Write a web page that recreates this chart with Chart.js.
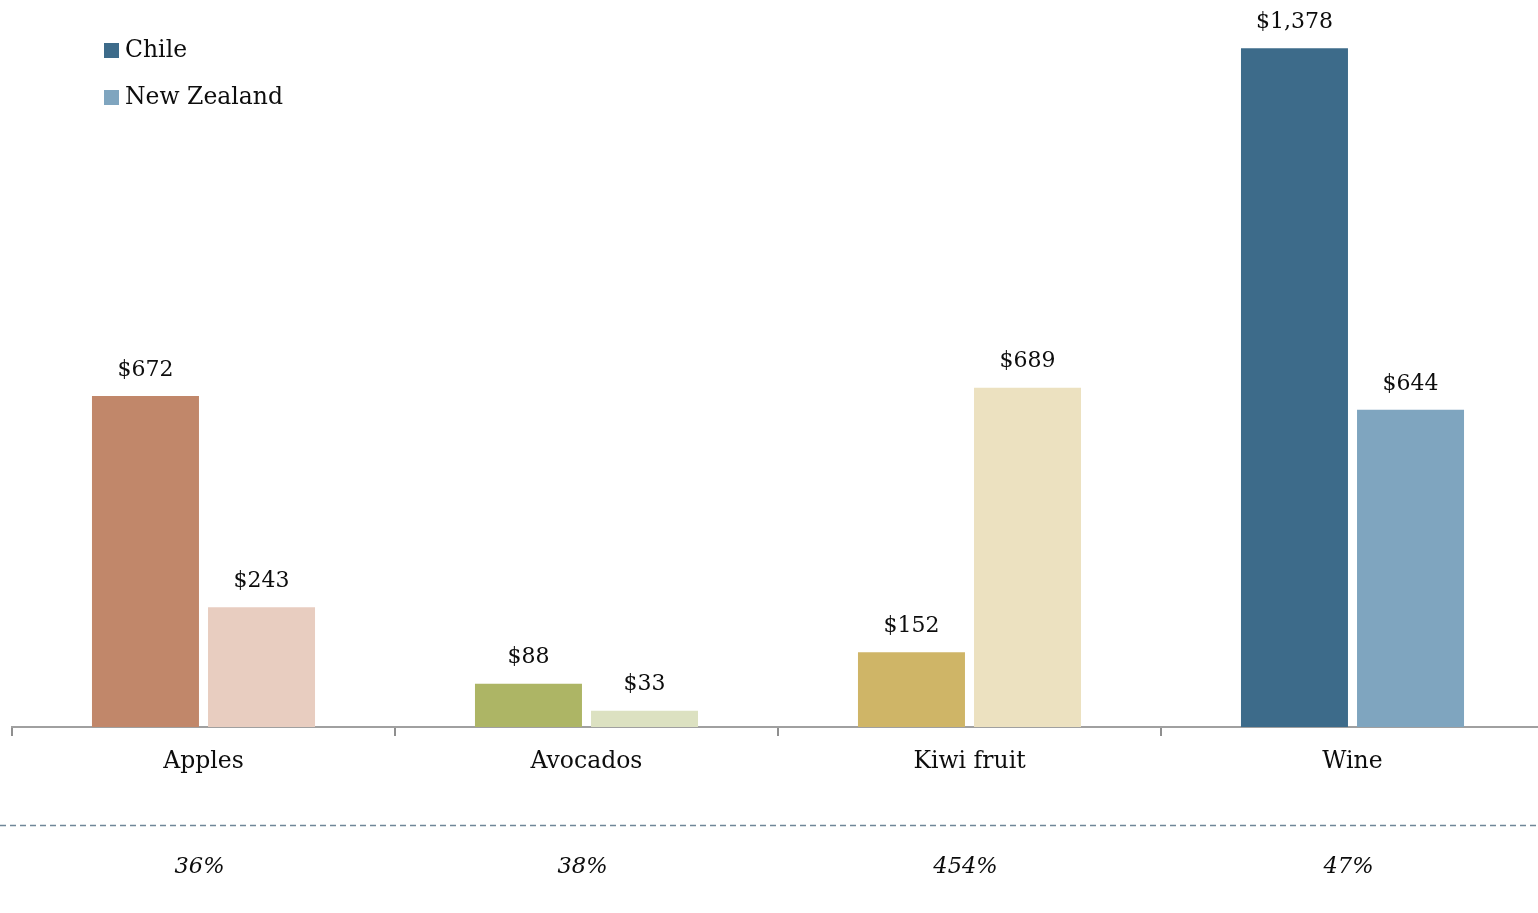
<!DOCTYPE html>
<html>
<head>
<meta charset="utf-8">
<style>
  html, body { margin: 0; padding: 0; background: #ffffff; overflow: hidden; }
  #wrap { position: relative; width: 1544px; height: 913px; }
</style>
<script src="https://cdn.jsdelivr.net/npm/chart.js@4"></script>
</head>
<body>
<div id="wrap"><canvas id="chart" width="1544" height="913"></canvas></div>
<script>
// Export values (US$ millions) by product
const categories = ['Apples', 'Avocados', 'Kiwi fruit', 'Wine'];
const seriesNames = ['Chile', 'New Zealand'];
const chileValues = [672, 88, 152, 1378];
const nzValues = [243, 33, 689, 644];
const shareLabels = ['36%', '38%', '454%', '47%'];

const chileColors = ['#c1876a', '#adb565', '#cfb567', '#3d6b8a'];
const nzColors = ['#e8cdc0', '#dce1c1', '#ece1c0', '#7fa5bf'];
const legendColors = ['#3d6b8a', '#7fa5bf'];

const FONT = '"DejaVu Serif", "Liberation Serif", serif';

const overlay = {
  id: 'overlay',
  afterDatasetsDraw(chart) {
    const ctx = chart.ctx;
    ctx.save();
    ctx.fillStyle = '#0d0d0d';
    ctx.font = '22px ' + FONT;
    ctx.textAlign = 'center';
    ctx.textBaseline = 'bottom';
    chart.data.datasets.forEach((ds, di) => {
      chart.getDatasetMeta(di).data.forEach((bar, i) => {
        const v = ds.data[i];
        ctx.fillText('$' + v.toLocaleString('en-US'), bar.x, bar.y - 15);
      });
    });
    ctx.restore();
  },
  afterDraw(chart) {
    const ctx = chart.ctx;
    const xs = chart.scales.x;
    ctx.save();
    // legend
    ctx.font = '23.5px ' + FONT;
    ctx.textAlign = 'left';
    ctx.textBaseline = 'middle';
    seriesNames.forEach((name, i) => {
      const cy = 50 + i * 47;
      ctx.fillStyle = legendColors[i];
      ctx.fillRect(104, cy - 7, 15, 15);
      ctx.fillStyle = '#0d0d0d';
      ctx.fillText(name, 125, cy + 1);
    });
    // dashed separator
    ctx.strokeStyle = '#6f8798';
    ctx.lineWidth = 1.6;
    ctx.setLineDash([6, 4]);
    ctx.beginPath();
    ctx.moveTo(0, 825.5);
    ctx.lineTo(chart.width, 825.5);
    ctx.stroke();
    ctx.setLineDash([]);
    // growth shares
    ctx.font = 'italic 22.5px ' + FONT;
    ctx.textAlign = 'center';
    ctx.fillStyle = '#0d0d0d';
    shareLabels.forEach((s, i) => {
      ctx.fillText(s, xs.getPixelForValue(i) - 4, 867);
    });
    ctx.restore();
  }
};

new Chart(document.getElementById('chart'), {
  type: 'bar',
  data: {
    labels: categories,
    datasets: [
      { label: seriesNames[0], data: chileValues, backgroundColor: chileColors },
      { label: seriesNames[1], data: nzValues, backgroundColor: nzColors }
    ]
  },
  options: {
    responsive: false,
    animation: false,
    events: [],
    categoryPercentage: 0.606,
    barPercentage: 0.922,
    layout: { padding: { left: 12, right: 0, top: 0, bottom: 0 } },
    plugins: { legend: { display: false }, tooltip: { enabled: false } },
    scales: {
      x: {
        grid: {
          offset: true,
          drawOnChartArea: false,
          drawTicks: true,
          tickLength: 9,
          color: '#8f8f8f',
          lineWidth: 2
        },
        border: { display: true, color: '#a0a0a0', width: 2 },
        ticks: {
          color: '#0d0d0d',
          font: { family: FONT, size: 23.5 },
          padding: 12
        },
        afterFit(scale) { scale.height = 186; }
      },
      y: {
        display: false,
        min: 0,
        max: 1476
      }
    }
  },
  plugins: [overlay]
});
</script>
</body>
</html>
